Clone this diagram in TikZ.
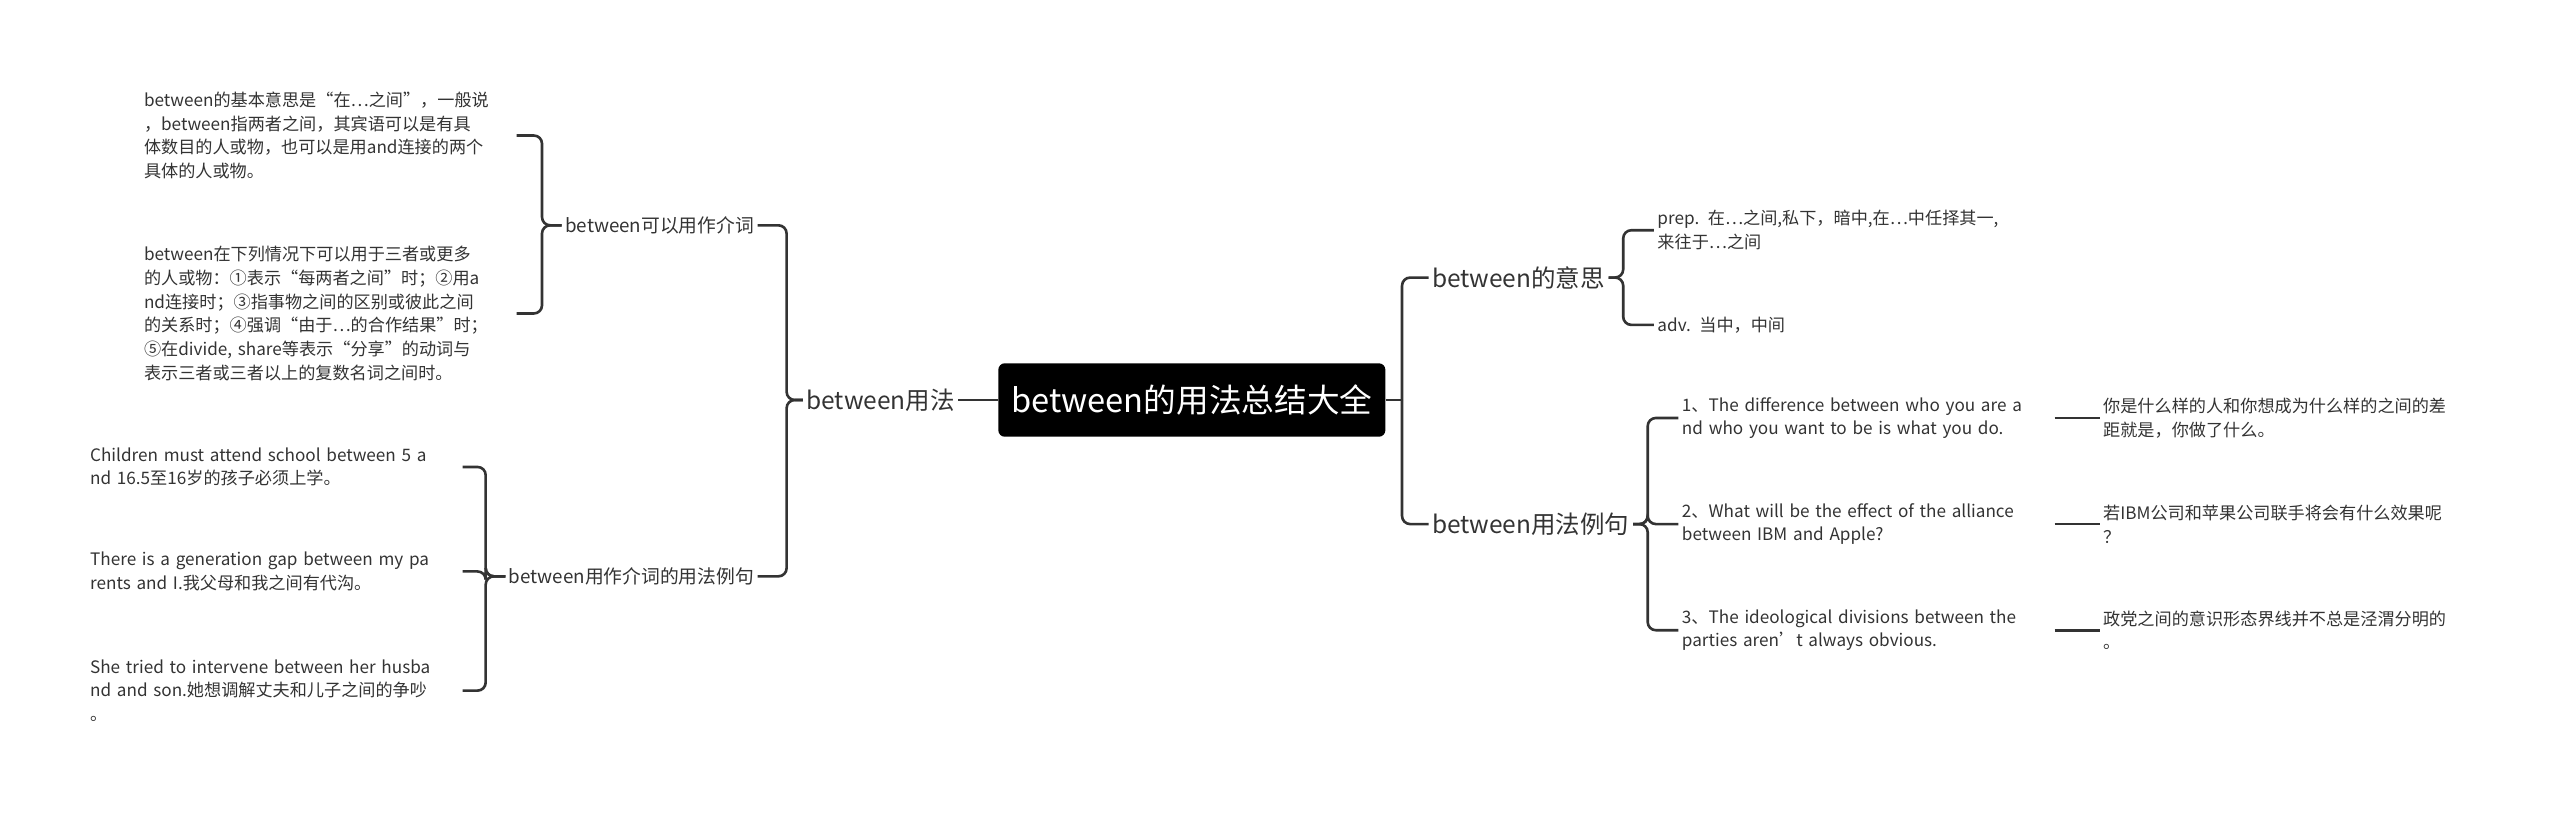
\documentclass[tikz,border=0pt]{standalone}
\usepackage{fontspec}
\setmainfont{Noto Sans CJK SC}
\usetikzlibrary{positioning}
\definecolor{ink}{HTML}{333333}
\tikzset{
root/.style={rectangle,rounded corners=4pt,fill=black,text=white,font=\fontsize{20}{24}\selectfont,inner xsep=8pt,minimum height=45pt},
topic/.style={text=ink,font=\fontsize{15}{18}\selectfont,inner sep=2pt},
sub/.style={text=ink,font=\fontsize{11.5}{14}\selectfont,inner sep=2pt},
leaf/.style={text=ink,font=\fontsize{10.5}{14.5}\selectfont,align=left,text width=226pt,inner sep=2pt},
conn/.style={draw=ink,line width=1.6pt,rounded corners=5pt}
}
\begin{document}
\begin{tikzpicture}[x=1pt,y=-1pt]
\useasboundingbox (0,0) rectangle (1568,498);
%Nodes
\node[root] (root) at (730,245) {between的用法总结大全};
\node[topic,anchor=east] (usage) at (587,245) {between用法};
\node[sub,anchor=east] (prepos) at (464,138) {between可以用作介词};
\node[sub,anchor=east] (prepex) at (464,353) {between用作介词的用法例句};
\node[leaf,anchor=west] (basic) at (86,83) {between的基本意思是“在…之间”，一般说\\，between指两者之间，其宾语可以是有具\\体数目的人或物，也可以是用and连接的两个\\具体的人或物。};
\node[leaf,anchor=west] (three) at (86,192) {between在下列情况下可以用于三者或更多\\的人或物：①表示“每两者之间”时；②用a\\nd连接时；③指事物之间的区别或彼此之间\\的关系时；④强调“由于…的合作结果”时；\\⑤在divide, share等表示“分享”的动词与\\表示三者或三者以上的复数名词之间时。};
\node[leaf,anchor=west] (child) at (53,286) {Children must attend school between 5 a\\nd 16.5至16岁的孩子必须上学。};
\node[leaf,anchor=west] (gap) at (53,350) {There is a generation gap between my pa\\rents and I.我父母和我之间有代沟。};
\node[leaf,anchor=west] (husb) at (53,423) {She tried to intervene between her husba\\nd and son.她想调解丈夫和儿子之间的争吵\\。};
\node[topic,anchor=west] (mean) at (875,170) {between的意思};
\node[topic,anchor=west] (sent) at (875,321) {between用法例句};
\node[leaf,anchor=west] (prep) at (1013,141) {prep. 在…之间,私下，暗中,在…中任择其一,\\来往于…之间};
\node[leaf,anchor=west] (adv) at (1013,199) {adv. 当中，中间};
\node[leaf,anchor=west] (exa) at (1028,256) {1、The difference between who you are a\\nd who you want to be is what you do.};
\node[leaf,anchor=west] (exb) at (1028,321) {2、What will be the effect of the alliance\\between IBM and Apple?};
\node[leaf,anchor=west] (exc) at (1028,386) {3、The ideological divisions between the\\parties aren't always obvious.};
\node[leaf,anchor=west] (tra) at (1286,256) {你是什么样的人和你想成为什么样的之间的差\\距就是，你做了什么。};
\node[leaf,anchor=west] (trb) at (1286,321) {若IBM公司和苹果公司联手将会有什么效果呢\\？};
\node[leaf,anchor=west] (trc) at (1286,386) {政党之间的意识形态界线并不总是泾渭分明的\\。};
%Connectors
\draw[conn] (root.west) -- (usage.east);
\draw[conn] (root.east) -- ++(10,0) coordinate (rj);
\foreach \c in {mean,sent} \draw[conn] (rj) |- (\c.west);
\foreach \c in {prepos,prepex} \draw[conn] (usage.west) -- ++(-10,0) |- (\c.east);
\foreach \c in {basic,three} \draw[conn] (prepos.west) -- ++(-12,0) |- (\c.east);
\foreach \c in {child,gap,husb} \draw[conn] (prepex.west) -- ++(-12,0) |- (\c.east);
\foreach \c in {prep,adv} \draw[conn] (mean.east) -- ++(9,0) |- (\c.west);
\foreach \c in {exa,exb,exc} \draw[conn] (sent.east) -- ++(9,0) |- (\c.west);
\draw[conn] (exa.east) -- (tra.west);
\draw[conn] (exb.east) -- (trb.west);
\draw[conn] (exc.east) -- (trc.west);
\end{tikzpicture}
\end{document}
